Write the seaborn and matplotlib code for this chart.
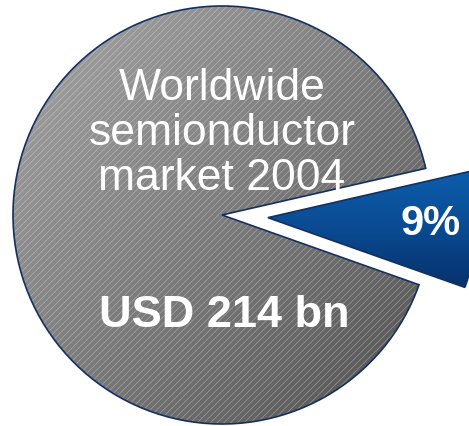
import numpy as np
import matplotlib
matplotlib.use("Agg")
import matplotlib.pyplot as plt
import seaborn as sns
from matplotlib.colors import LinearSegmentedColormap
from matplotlib.patches import Wedge

sns.set_theme(style="white")
plt.rcParams['font.family'] = ['Liberation Sans', 'DejaVu Sans']
plt.rcParams['hatch.linewidth'] = 0.5

# Market shares (percent)
segments = ["Rest of market", "Share"]
shares = [91, 9]
explode = [0.0, 0.22]
title_lines = ["Worldwide", "semionductor", "market 2004"]
market_size = "USD 214 bn"

fig = plt.figure(figsize=(4.69, 4.26), dpi=100)
ax = fig.add_axes([0, 0, 1, 1])
ax.set_axis_off()

R = 1.0
start = -3.3 - shares[1] / 100 * 360 / 2  # center the small slice slightly below horizontal
wedges, _ = ax.pie(shares[::-1], explode=explode[::-1], radius=R, startangle=start,
                   counterclock=True, colors=["none", "none"],
                   wedgeprops=dict(linewidth=0))
ax.set_xlim(-222 / 209, 247 / 209)
ax.set_ylim(-211 / 209, 215 / 209)
ax.set_aspect('auto')

blue_w, grey_w = wedges[0], wedges[1]

# gradient fills clipped to each wedge
xx, yy = np.meshgrid(np.linspace(0, 1, 300), np.linspace(0, 1, 300))
grey_cmap = LinearSegmentedColormap.from_list("g", ["#a6a6a6", "#7c7c7c", "#505050"])
diag = (xx + yy) / 2
im = ax.imshow(diag, cmap=grey_cmap, extent=[-1.0, 1.0, -1.0, 1.0], origin='upper',
               zorder=1, aspect='auto')
im.set_clip_path(grey_w)

blue_cmap = LinearSegmentedColormap.from_list("b", ["#0d5fae", "#0a4b92", "#06306a"])
bx0, by0 = blue_w.center
im2 = ax.imshow(yy, cmap=blue_cmap, extent=[bx0, bx0 + 1.05, by0 - 0.35, by0 + 0.25],
                origin='upper', zorder=1, aspect='auto')
im2.set_clip_path(blue_w)

# white diagonal hatching over the grey pie
hatch = Wedge(grey_w.center, grey_w.r, grey_w.theta1, grey_w.theta2,
              facecolor='none', edgecolor=(1, 1, 1, 0.35), linewidth=0,
              hatch='/////', zorder=2)
ax.add_patch(hatch)

# outlines
for w in (grey_w, blue_w):
    ax.add_patch(Wedge(w.center, w.r, w.theta1, w.theta2, facecolor='none',
                       edgecolor='#13305e', linewidth=1.2, zorder=3))

ax.text(0.0, 0.39, "\n".join(title_lines), ha='center', va='center', color='white',
        fontsize=32, linespacing=1.11, zorder=4)
ax.text(0.01, -0.48, market_size, ha='center', va='center', color='white',
        fontsize=32.5, fontweight='bold', zorder=4)
ax.text(1.0, -0.045, f"{shares[1]}%", ha='center', va='center', color='white',
        fontsize=30, fontweight='bold', zorder=4)

fig.savefig("out.png", dpi=100, facecolor='white')
